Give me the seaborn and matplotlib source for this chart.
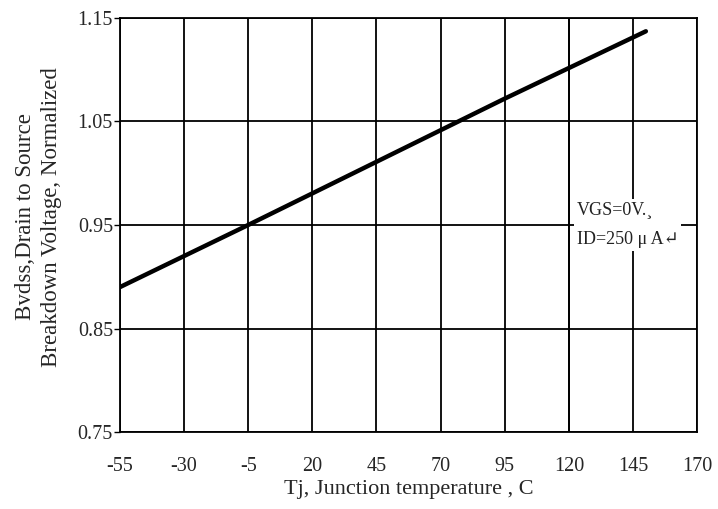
import pandas as pd
import matplotlib
matplotlib.use("Agg")
import matplotlib.pyplot as plt
import seaborn as sns

# data
tj = [-55, -5, 45, 95, 150]
bvdss = [0.89, 0.95, 1.011, 1.072, 1.137]
xticks = [-55, -30, -5, 20, 45, 70, 95, 120, 145, 170]
yticks = [0.75, 0.85, 0.95, 1.05, 1.15]

df = pd.DataFrame({"Tj": tj, "BVdss": bvdss})

sns.set_style("white")
plt.rcParams["font.family"] = ["Liberation Serif", "DejaVu Serif"]

fig = plt.figure(figsize=(7.18, 5.09), dpi=100)
ax = fig.add_axes([0.167, 0.151, 0.804, 0.814])

sns.lineplot(data=df, x="Tj", y="BVdss", color="black", linewidth=3.2, ax=ax)

ax.set_xlim(-55, 170)
ax.set_ylim(0.75, 1.15)
ax.set_xticks(xticks)
ax.set_yticks(yticks)
ax.set_xticklabels([str(t) for t in xticks], fontsize=14.5)
ax.set_yticklabels([f"{t:.2f}" for t in yticks], fontsize=14.5)
ax.tick_params(axis="x", length=0, pad=18)
ax.tick_params(axis="y", length=4, width=1, color="black", direction="out", pad=1, left=True)
ax.grid(True, color="black", linewidth=1.3)
for s in ax.spines.values():
    s.set_color("black")
    s.set_linewidth(1.3)

ax.set_xlabel("Tj, Junction temperature , C", fontsize=16, labelpad=3)
ax.set_ylabel("Bvdss,Drain to Source\nBreakdown Voltage, Normalized", fontsize=16.5,
              linespacing=1.35)
ax.yaxis.set_label_coords(-0.1, 0.52)

ax.text(123, 0.95, "VGS=0V.\u00b8\nID=250 \u03bc A\u21b5", fontsize=13, color="#222222",
        linespacing=2.0, va="center", ha="left",
        bbox=dict(facecolor="white", edgecolor="none", pad=2))
ax.axvline(120, color="black", linewidth=1.3, zorder=5)

fig.savefig("out.png", dpi=100)
